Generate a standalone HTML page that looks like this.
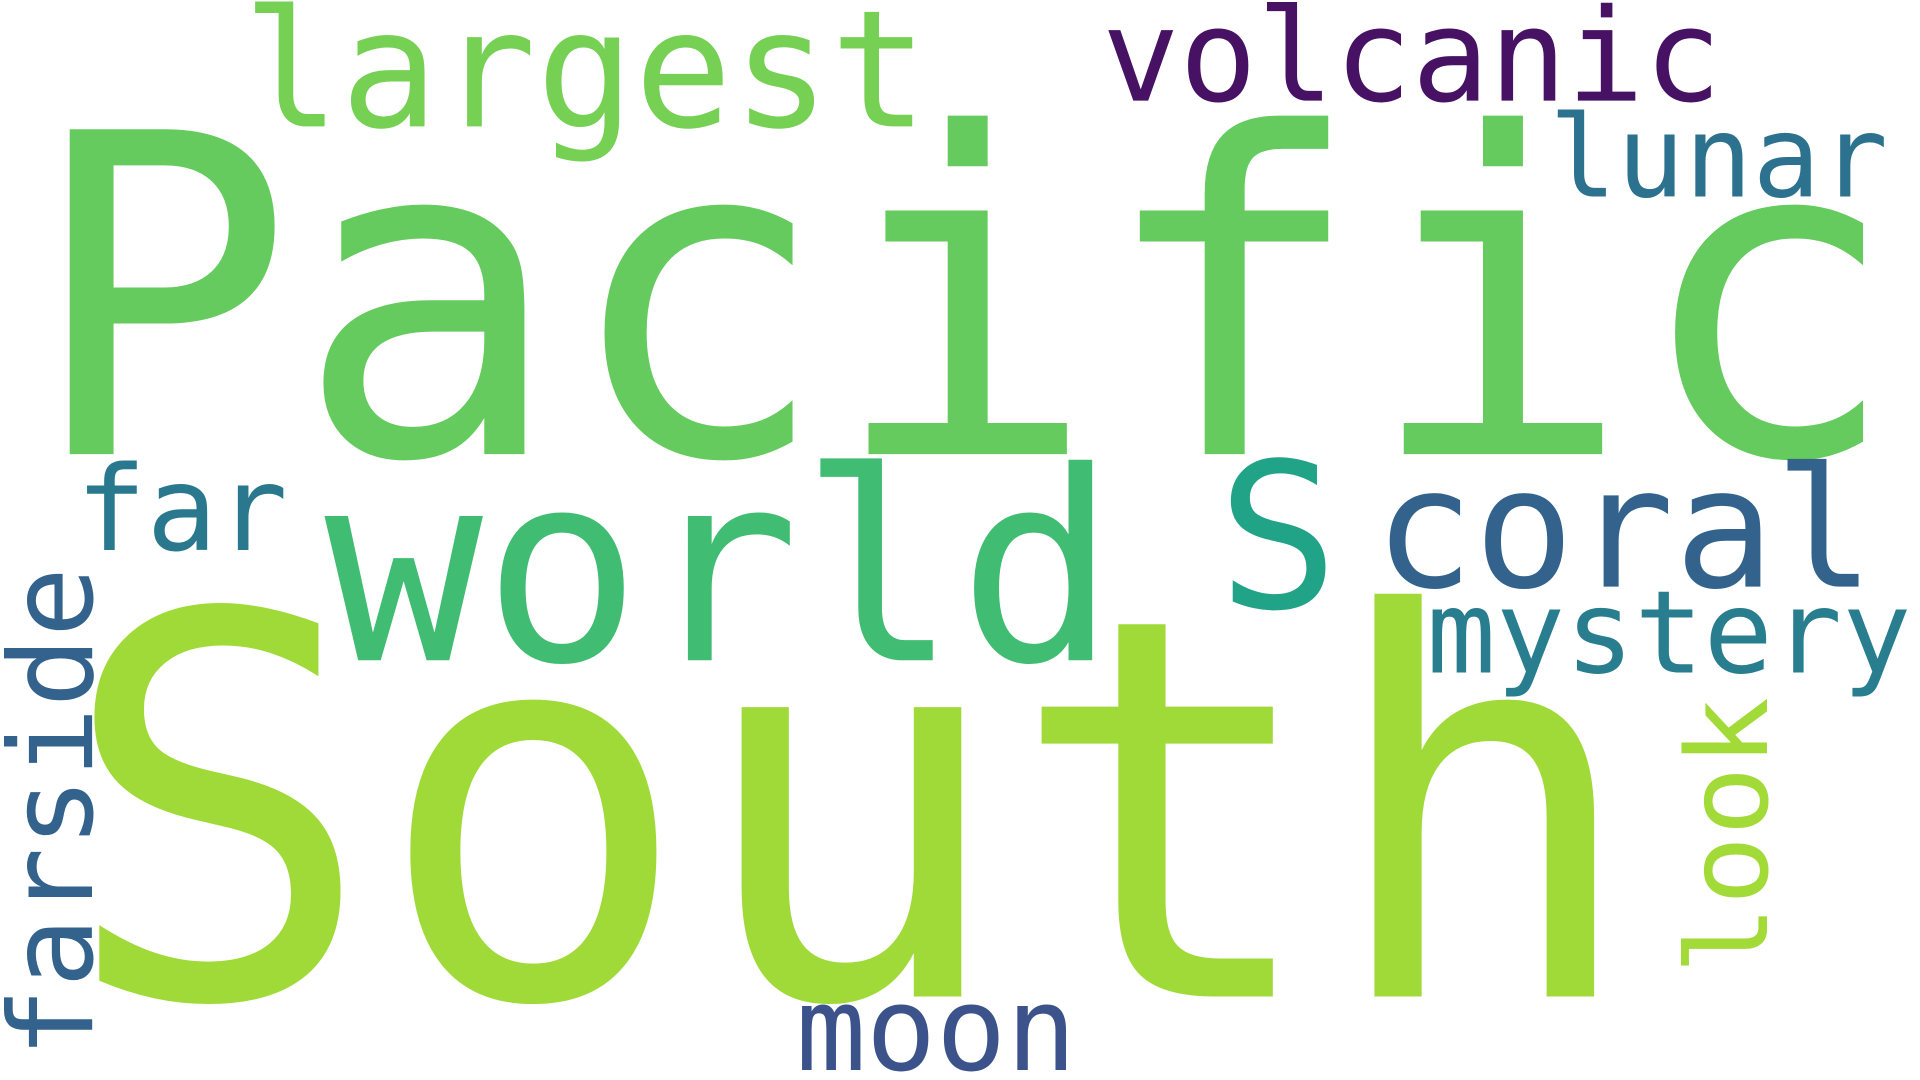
<!DOCTYPE html>
<html><head><meta charset="utf-8"><style>
html,body{margin:0;padding:0;background:#fff;width:100%;height:100%;overflow:hidden}
svg{display:block;width:100vw;height:100vh}
text{font-family:"DejaVu Sans Mono","Liberation Mono",monospace}
</style></head><body>
<svg viewBox="0 0 1568 880" preserveAspectRatio="none">
<rect width="1568" height="880" fill="#fff"/>
<text x="22" y="370" font-size="363" textLength="1530" lengthAdjust="spacingAndGlyphs" fill="#65cb5e">Pacific</text>
<text x="48" y="812" font-size="432" textLength="1292" lengthAdjust="spacingAndGlyphs" fill="#a0da39">South</text>
<text x="265" y="538" font-size="215" textLength="647" lengthAdjust="spacingAndGlyphs" fill="#40bd72">world</text>
<text x="994" y="495" font-size="165" fill="#20a386">S</text>
<text x="1122" y="478" font-size="136" textLength="409" lengthAdjust="spacingAndGlyphs" fill="#33638d">coral</text>
<text x="198" y="103" font-size="133" textLength="560" lengthAdjust="spacingAndGlyphs" fill="#75d054">largest</text>
<text x="900" y="82" font-size="105" textLength="506" lengthAdjust="spacingAndGlyphs" fill="#471164">volcanic</text>
<text x="1265" y="160" font-size="92" textLength="277" lengthAdjust="spacingAndGlyphs" fill="#2c728e">lunar</text>
<text x="62" y="448" font-size="96" textLength="173" lengthAdjust="spacingAndGlyphs" fill="#2a788e">far</text>
<text x="1165" y="548" font-size="94" textLength="396" lengthAdjust="spacingAndGlyphs" fill="#287d8e">mystery</text>
<text x="650" y="872" font-size="95" textLength="229" lengthAdjust="spacingAndGlyphs" fill="#3b528b">moon</text>
<text transform="translate(75,862) rotate(-90)" font-size="95" textLength="400" lengthAdjust="spacingAndGlyphs" fill="#33638d">farside</text>
<text transform="translate(1443,794) rotate(-90)" font-size="92" textLength="226" lengthAdjust="spacingAndGlyphs" fill="#a2da37">look</text>
</svg>
</body></html>
